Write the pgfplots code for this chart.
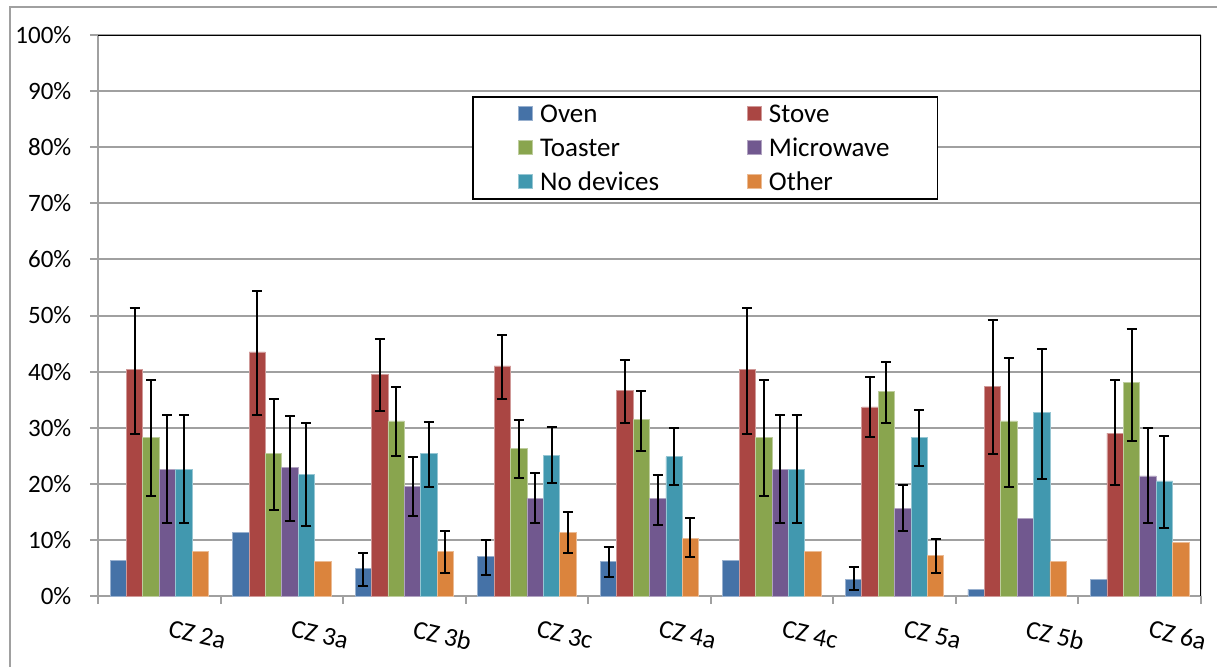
\documentclass[border=0pt]{standalone}
\usepackage{fontspec}
\setmainfont{Carlito}
\usepackage{pgfplots}
\pgfplotsset{compat=1.18}
\usepackage{pgfplotstable}
\definecolor{cOven}{HTML}{4572A7}
\definecolor{cStove}{HTML}{AA4643}
\definecolor{cToaster}{HTML}{89A54E}
\definecolor{cMicro}{HTML}{71588F}
\definecolor{cNoDev}{HTML}{4198AF}
\definecolor{cOther}{HTML}{DB843D}
\definecolor{gridc}{RGB}{160,160,160}

\pgfplotstableread{
x v ep em
0 6.4 0 0
1 11.3 0 0
2 4.9 2.7 3.2
3 7.0 3.0 3.2
4 6.1 2.65 2.8
5 6.4 0 0
6 3.0 2.1 1.9
7 1.2 0 0
8 3.0 0 0
}\oven
\pgfplotstableread{
x v ep em
0 40.4 11.0 11.5
1 43.5 10.8 11.2
2 39.5 6.3 6.6
3 41.0 5.5 5.9
4 36.7 5.4 5.9
5 40.4 11.0 11.5
6 33.7 5.3 5.4
7 37.3 11.9 12.0
8 29.05 9.45 9.25
}\stove
\pgfplotstableread{
x v ep em
0 28.2 10.3 10.3
1 25.4 9.7 10.0
2 31.2 6.0 6.3
3 26.3 5.1 5.3
4 31.5 5.1 5.6
5 28.2 10.3 10.3
6 36.4 5.4 5.6
7 31.2 11.2 11.8
8 38.0 9.6 10.3
}\toaster
\pgfplotstableread{
x v ep em
0 22.6 9.7 9.6
1 22.9 9.1 9.6
2 19.5 5.2 5.3
3 17.4 4.5 4.4
4 17.4 4.2 4.7
5 22.6 9.7 9.6
6 15.6 4.2 4.1
7 13.75 0 0
8 21.4 8.5 8.4
}\micro
\pgfplotstableread{
x v ep em
0 22.6 9.7 9.6
1 21.7 9.1 9.3
2 25.4 5.7 6.0
3 25.1 5.1 5.0
4 24.8 5.1 5.0
5 22.6 9.7 9.6
6 28.2 5.0 5.0
7 32.7 11.3 11.8
8 20.5 8.1 8.4
}\nodev
\pgfplotstableread{
x v ep em
0 8.0 0 0
1 6.1 0 0
2 8.0 3.5 3.9
3 11.3 3.6 3.7
4 10.3 3.6 3.4
5 8.0 0 0
6 7.3 2.9 3.2
7 6.1 0 0
8 9.5 0 0
}\other

\pgfplotsset{
  errplot/.style={forget plot, draw=none, mark=none,
    restrict expr to domain={\thisrow{ep}}{0.01:1000},
    error bars/.cd, y dir=both, y explicit,
    error bar style={draw=black, line width=1pt},
    error mark options={draw=black, line width=1pt, mark size=2.5pt, rotate=90}},
  barplot/.style={ybar, fill=#1, draw=#1!55!white, line width=0.4pt}
}

\begin{document}
\fontsize{12.5}{15}\selectfont
\begin{tikzpicture}
\begin{axis}[
  at={(49pt,35pt)}, anchor=south west,
  scale only axis, width=551.5pt, height=280.5pt,
  xmin=-0.5, xmax=8.5, ymin=0, ymax=100,
  enlargelimits=false,
  bar width=0.1338,
  axis x line*=bottom, axis y line*=left,
  axis line style={gridc, line width=1pt},
  tick style={gridc, line width=1pt},
  tick align=outside,
  xtick={0,...,8},
  xticklabels={\mbox{CZ 2a},\mbox{CZ 3a},\mbox{CZ 3b},\mbox{CZ 3c},\mbox{CZ 4a},\mbox{CZ 4c},\mbox{CZ 5a},\mbox{CZ 5b},\mbox{CZ 6a}},
  major x tick style={draw=none},
  minor xtick={-0.5,0.5,...,8.5},
  minor tick length=4pt,
  major tick length=4pt,
  xticklabel style={inner sep=0pt, anchor=center, xshift=19pt, yshift=-15.5pt, rotate=-13, font=\fontsize{13}{15}\selectfont},
  ytick={0,10,...,100},
  yticklabel={\pgfmathprintnumber{\tick}\%},
  /pgf/number format/assume math mode=true,
  yticklabel style={anchor=east, inner sep=0pt, xshift=-9.15pt},
  ymajorgrids,
  grid style={gridc, line width=1pt},
  legend columns=2,
  legend cell align=left,
  legend image code/.code={\draw[#1] (0pt,-3.5pt) rectangle (7pt,3.5pt);},
  legend style={at={(0.3391,0.8913)}, anchor=north west, draw=black, line width=0.8pt, fill=white,
    inner xsep=22.75pt, inner ysep=2pt, row sep=4pt, column sep=0pt,
    font=\fontsize{13.5}{15}\selectfont,
    nodes={inner sep=0pt, text height=11pt, text depth=2pt},
    /tikz/every odd column/.append style={column sep=3.5pt},
    /tikz/every even column/.append style={column sep=3.5pt}},
]
\addplot[barplot=cOven, bar shift=-0.3345] table[x=x, y=v] {\oven};
\addlegendentry{\makebox[100pt][l]{Oven}}
\addplot[barplot=cStove, bar shift=-0.2007] table[x=x, y=v] {\stove};
\addlegendentry{\makebox[61.5pt][l]{Stove}}
\addplot[barplot=cToaster, bar shift=-0.0669] table[x=x, y=v] {\toaster};
\addlegendentry{\makebox[100pt][l]{Toaster}}
\addplot[barplot=cMicro, bar shift=0.0669] table[x=x, y=v] {\micro};
\addlegendentry{\makebox[61.5pt][l]{Microwave}}
\addplot[barplot=cNoDev, bar shift=0.2007] table[x=x, y=v] {\nodev};
\addlegendentry{\makebox[100pt][l]{No devices}}
\addplot[barplot=cOther, bar shift=0.3345] table[x=x, y=v] {\other};
\addlegendentry{\makebox[61.5pt][l]{Other}}

\addplot[errplot] table[x expr=\thisrow{x}-0.3345, y=v, y error plus=ep, y error minus=em] {\oven};
\addplot[errplot] table[x expr=\thisrow{x}-0.2007, y=v, y error plus=ep, y error minus=em] {\stove};
\addplot[errplot] table[x expr=\thisrow{x}-0.0669, y=v, y error plus=ep, y error minus=em] {\toaster};
\addplot[errplot] table[x expr=\thisrow{x}+0.0669, y=v, y error plus=ep, y error minus=em] {\micro};
\addplot[errplot] table[x expr=\thisrow{x}+0.2007, y=v, y error plus=ep, y error minus=em] {\nodev};
\addplot[errplot] table[x expr=\thisrow{x}+0.3345, y=v, y error plus=ep, y error minus=em] {\other};

\draw[black, line width=1pt] (rel axis cs:0,1) -- (rel axis cs:1,1) -- (rel axis cs:1,0);
\end{axis}
\draw[gridc, line width=1pt] (4.75pt,-10pt) -- (4.75pt,329.5pt) -- (620pt,329.5pt);
\pgfresetboundingbox
\path[use as bounding box] (0,0) rectangle (608.5pt,333pt);
\end{tikzpicture}
\end{document}
